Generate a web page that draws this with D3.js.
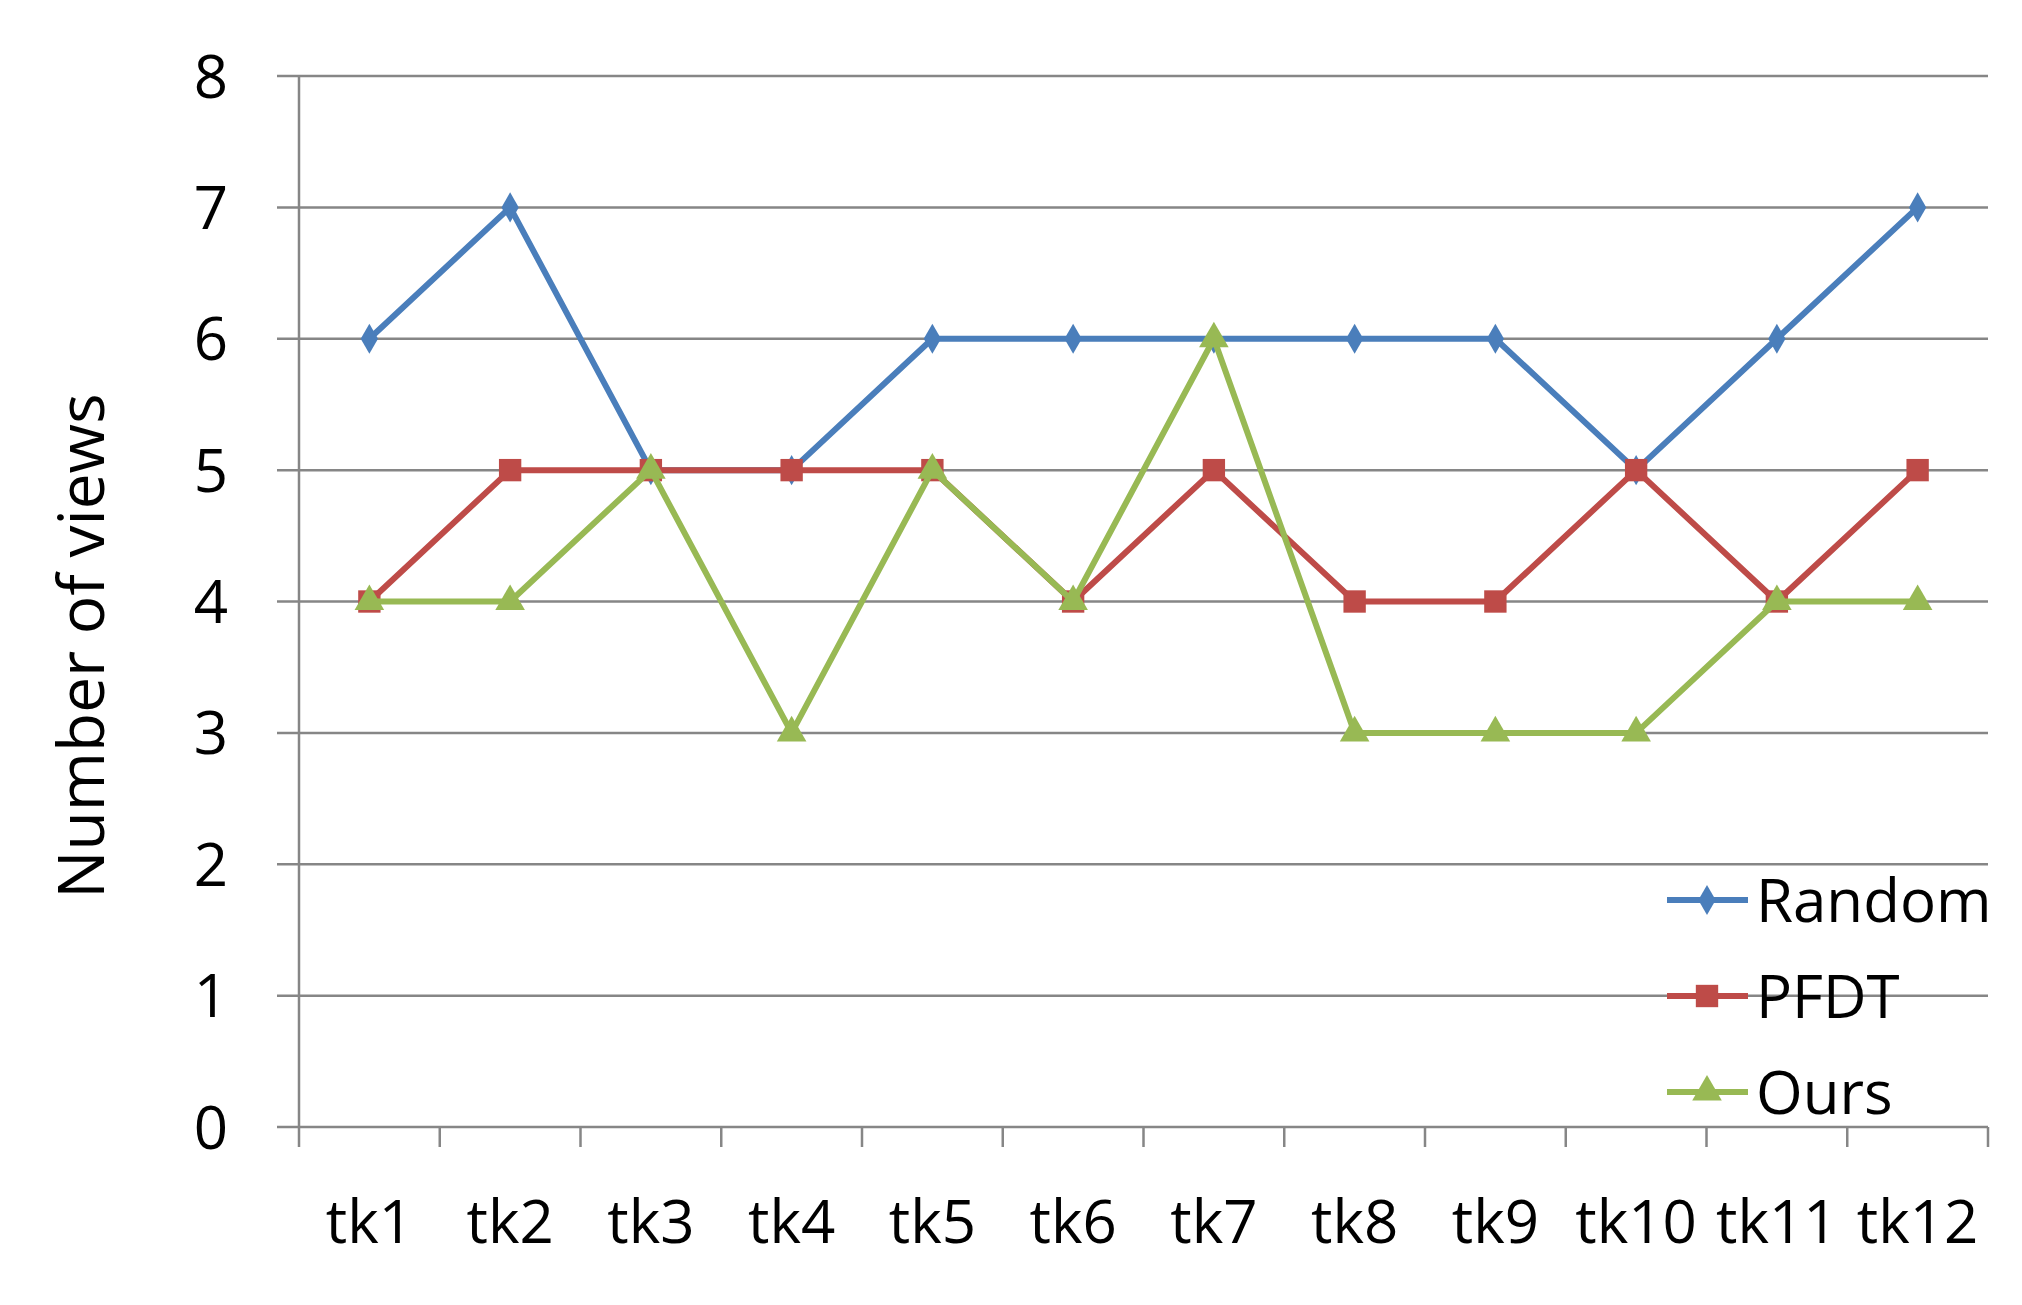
<!DOCTYPE html>
<html><head><meta charset="utf-8">
<script src="https://cdn.jsdelivr.net/npm/d3@7"></script>
<style>body{margin:0;background:#fff}text{font-family:"Open Sans",sans-serif;fill:#000}</style>
</head><body><div id="chart"></div>
<script>
const categories = ['tk1','tk2','tk3','tk4','tk5','tk6','tk7','tk8','tk9','tk10','tk11','tk12']
const randomVals = [6,7,5,5,6,6,6,6,6,5,6,7]
const pfdtVals = [4,5,5,5,5,4,5,4,4,5,4,5]
const oursVals = [4,4,5,3,5,4,6,3,3,3,4,4]
const yTicks = [0,1,2,3,4,5,6,7,8]
const series = [
  {name: 'Random', values: randomVals, color: '#4a7ebb', sym: d3.symbolDiamond, size: 260},
  {name: 'PFDT', values: pfdtVals, color: '#be4b48', sym: d3.symbolSquare, size: 500},
  {name: 'Ours', values: oursVals, color: '#98b954', sym: d3.symbolTriangle, size: 380}
]

const W = 2022, H = 1305
const plotLeft = 299, plotRight = 1988, plotTop = 76, plotBottom = 1127
const svg = d3.select('#chart').append('svg').attr('width', W).attr('height', H)

const x = d3.scaleBand().domain(categories).range([plotLeft, plotRight])
const y = d3.scaleLinear().domain([0, 8]).range([plotBottom, plotTop])

// gridlines
svg.append('g').selectAll('line').data(yTicks).join('line')
  .attr('x1', plotLeft - 22).attr('x2', plotRight)
  .attr('y1', d => y(d)).attr('y2', d => y(d))
  .attr('stroke', '#868686').attr('stroke-width', 2.5)
svg.append('line').attr('x1', plotLeft).attr('x2', plotLeft).attr('y1', plotTop).attr('y2', plotBottom)
  .attr('stroke', '#868686').attr('stroke-width', 2.5)

// x tick marks
const bounds = categories.map(c => x(c)).concat([plotRight])
svg.append('g').selectAll('line').data(bounds).join('line')
  .attr('x1', d => d).attr('x2', d => d).attr('y1', plotBottom).attr('y2', plotBottom + 20)
  .attr('stroke', '#868686').attr('stroke-width', 2.5)

svg.append('g').selectAll('text').data(yTicks).join('text')
  .attr('x', 228).attr('y', d => y(d)).attr('dy', '0.36em')
  .attr('text-anchor', 'end').attr('font-size', 60).text(d => d)

svg.append('g').selectAll('text').data(categories).join('text')
  .attr('x', d => x(d) + x.bandwidth() / 2).attr('y', 1221).attr('dy', '0.36em')
  .attr('text-anchor', 'middle').attr('font-size', 60).text(d => d)

svg.append('text').attr('transform', 'translate(81,646) rotate(-90)')
  .attr('text-anchor', 'middle').attr('dy', '0.36em').attr('font-size', 64).text('Number of views')

const line = d3.line().x((d, i) => x(categories[i]) + x.bandwidth() / 2).y(d => y(d))
series.forEach(s => {
  svg.append('path').attr('d', line(s.values)).attr('fill', 'none')
    .attr('stroke', s.color).attr('stroke-width', 6).attr('stroke-linejoin', 'round')
  svg.append('g').selectAll('path').data(s.values).join('path')
    .attr('transform', (d, i) => `translate(${x(categories[i]) + x.bandwidth() / 2},${y(d)})`)
    .attr('d', d3.symbol().type(s.sym).size(s.size)).attr('fill', s.color)
})

// legend
const legend = svg.append('g')
series.forEach((s, i) => {
  const ly = 900 + i * 96
  legend.append('line').attr('x1', 1667).attr('x2', 1748).attr('y1', ly).attr('y2', ly)
    .attr('stroke', s.color).attr('stroke-width', 6)
  legend.append('path').attr('transform', `translate(1707,${ly})`)
    .attr('d', d3.symbol().type(s.sym).size(s.size)).attr('fill', s.color)
  legend.append('text').attr('x', 1756).attr('y', ly).attr('dy', '0.36em')
    .attr('font-size', 60).text(s.name)
})
</script></body></html>
